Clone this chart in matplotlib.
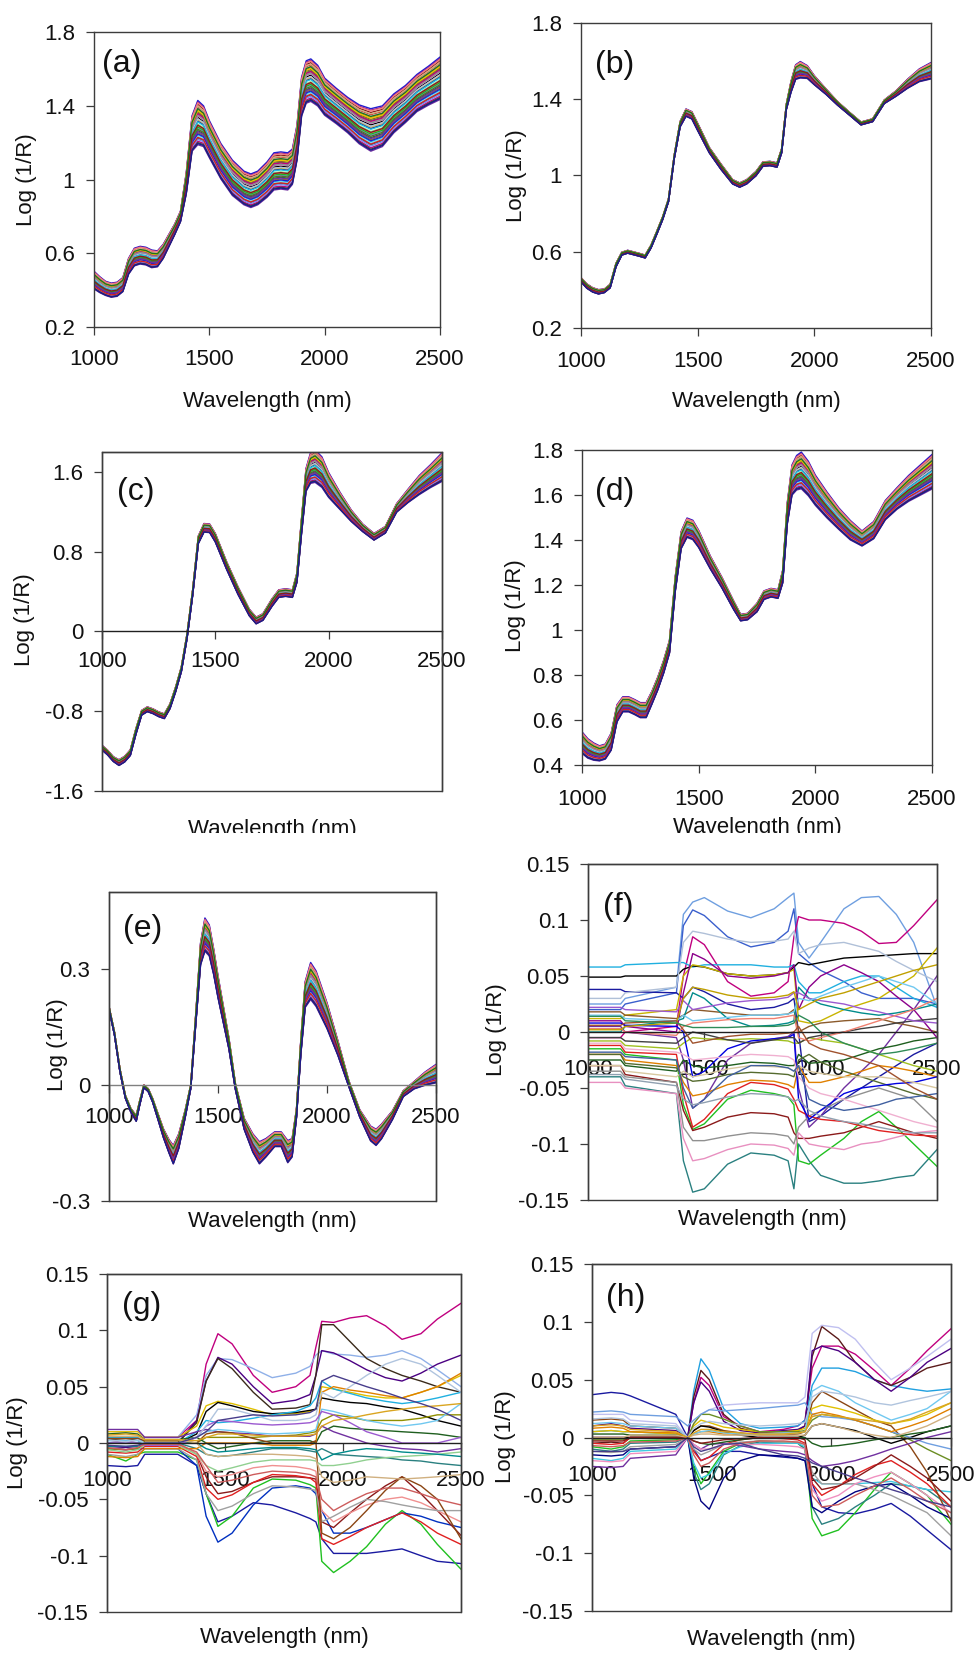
import numpy as np
import matplotlib
matplotlib.use('Agg')
import matplotlib.pyplot as plt
from matplotlib.patches import Rectangle
from matplotlib.transforms import Bbox, TransformedBbox

plt.rcParams['font.family'] = ['Liberation Sans', 'DejaVu Sans']

# ---------------- data ----------------
# wavelength grid shared by panels (a)-(d)
wl = [1000, 1025, 1050, 1075, 1100, 1125, 1150, 1175, 1200, 1225,
      1250, 1275, 1300, 1325, 1350, 1375, 1400, 1425, 1450, 1475,
      1500, 1550, 1600, 1650, 1680, 1710, 1750, 1780, 1810, 1840,
      1860, 1880, 1900, 1920, 1940, 1970, 2000, 2050, 2100, 2150,
      2200, 2250, 2300, 2350, 2400, 2450, 2500]

# (a) raw spectra: bundle centre and half-width
a_mean = [0.455, 0.43, 0.41, 0.40, 0.405, 0.43, 0.53, 0.58, 0.59, 0.585,
          0.57, 0.57, 0.61, 0.67, 0.73, 0.80, 0.98, 1.25, 1.31, 1.29,
          1.22, 1.10, 1.01, 0.955, 0.94, 0.955, 1.00, 1.045, 1.05, 1.045,
          1.07, 1.20, 1.45, 1.53, 1.54, 1.51, 1.45, 1.40, 1.35, 1.30,
          1.27, 1.29, 1.36, 1.41, 1.47, 1.51, 1.55]
a_spread = [.05, .045, .04, .04, .04, .04, .045, .05, .05, .05,
            .05, .045, .04, .035, .03, .03, .06, .10, .125, .115,
            .105, .10, .10, .095, .095, .095, .10, .105, .105, .105,
            .10, .10, .11, .12, .12, .115, .105, .10, .10, .11,
            .12, .115, .11, .105, .105, .11, .12]

# (b)
b_mean = [0.453, 0.42, 0.40, 0.39, 0.395, 0.42, 0.53, 0.59, 0.60, 0.592,
          0.584, 0.575, 0.627, 0.70, 0.776, 0.87, 1.10, 1.27, 1.33, 1.316,
          1.255, 1.133, 1.046, 0.967, 0.95, 0.967, 1.01, 1.06, 1.063, 1.055,
          1.13, 1.36, 1.465, 1.543, 1.555, 1.543, 1.50, 1.44, 1.378, 1.325,
          1.273, 1.29, 1.387, 1.43, 1.482, 1.526, 1.55]
b_spread = [.012, .012, .012, .012, .01, .01, .01, .008, .008, .008,
            .008, .008, .008, .008, .008, .008, .01, .015, .02, .02,
            .02, .015, .015, .012, .012, .012, .012, .012, .012, .012,
            .012, .015, .03, .04, .045, .035, .025, .015, .01, .008,
            .008, .008, .01, .015, .025, .035, .045]

# (c)
c_mean = [-1.165, -1.215, -1.28, -1.315, -1.28, -1.215, -1.0, -0.815, -0.78, -0.80,
          -0.83, -0.85, -0.75, -0.58, -0.38, -0.05, 0.39, 0.92, 1.04, 1.035,
          0.94, 0.66, 0.41, 0.19, 0.11, 0.145, 0.29, 0.38, 0.39, 0.38,
          0.54, 1.05, 1.52, 1.64, 1.66, 1.60, 1.47, 1.31, 1.16, 1.04,
          0.95, 1.02, 1.24, 1.36, 1.47, 1.56, 1.65]
c_spread = [.025, .025, .025, .03, .03, .03, .03, .025, .025, .025,
            .025, .025, .025, .025, .025, .025, .03, .04, .045, .045,
            .045, .04, .04, .035, .035, .035, .04, .04, .04, .04,
            .05, .08, .12, .16, .17, .16, .13, .09, .06, .04,
            .035, .035, .045, .07, .10, .12, .15]

# (d)
d_mean = [0.50, 0.474, 0.46, 0.452, 0.46, 0.504, 0.63, 0.67, 0.67, 0.658,
          0.644, 0.644, 0.70, 0.763, 0.837, 0.926, 1.207, 1.40, 1.455, 1.445,
          1.405, 1.30, 1.21, 1.11, 1.055, 1.06, 1.10, 1.155, 1.166, 1.16,
          1.237, 1.52, 1.667, 1.70, 1.71, 1.674, 1.622, 1.556, 1.496, 1.444,
          1.407, 1.444, 1.533, 1.585, 1.63, 1.667, 1.704]
d_spread = [.05, .045, .04, .035, .035, .04, .04, .035, .035, .035,
            .035, .035, .03, .03, .03, .03, .035, .04, .045, .045,
            .04, .03, .025, .02, .015, .015, .02, .02, .02, .02,
            .03, .05, .07, .08, .085, .08, .07, .06, .05, .045,
            .035, .04, .045, .05, .06, .07, .08]

# (e) derivative-like spectra
e_wl = [1000, 1025, 1050, 1075, 1100, 1125, 1140, 1160, 1180, 1200,
        1225, 1250, 1275, 1295, 1320, 1350, 1375, 1400, 1420, 1440,
        1460, 1480, 1500, 1550, 1580, 1620, 1660, 1690, 1720, 1760,
        1790, 1820, 1840, 1860, 1880, 1900, 1925, 1950, 2000, 2050,
        2100, 2150, 2200, 2225, 2250, 2300, 2350, 2400, 2450, 2500]
e_mean = [0.20, 0.134, 0.039, -0.03, -0.065, -0.086, -0.048, -0.003, -0.013, -0.039,
          -0.082, -0.125, -0.158, -0.18, -0.145, -0.073, -0.004, 0.186, 0.34, 0.39,
          0.375, 0.32, 0.255, 0.108, -0.004, -0.10, -0.15, -0.175, -0.162, -0.14,
          -0.14, -0.172, -0.162, -0.073, 0.099, 0.235, 0.27, 0.25, 0.18, 0.096,
          0.004, -0.073, -0.125, -0.135, -0.12, -0.078, -0.022, 0.0, 0.017, 0.03]
e_spread = [.004, .004, .004, .004, .005, .008, .006, .004, .004, .005,
            .008, .012, .018, .025, .02, .01, .005, .015, .03, .045,
            .042, .035, .03, .015, .008, .015, .025, .03, .025, .02,
            .02, .03, .025, .012, .02, .035, .05, .048, .035, .02,
            .008, .01, .02, .022, .02, .012, .008, .01, .018, .025]

# relative position of every sample inside the bundle (-1 bottom, +1 top)
scores = [0.95, -0.82, 0.41, -0.15, 0.68, -0.55, 0.12, -0.97, 0.33, 0.78,
          -0.36, 0.05, -0.68, 0.55, -0.25, 0.88, -0.45, 0.22, -0.08, 0.62,
          -0.74, 0.28, -0.6, 0.47, -0.3, 0.72, -0.88, 0.15, -0.5, 0.38,
          -0.2, 0.85, -0.65, 0.02, 0.52, -0.4, 0.3, -0.12, 0.6, -0.92]

palette = ['#1f1fd0', '#c0007f', '#20b020', '#f08080', '#d62020', '#20c0e0', '#e8c800',
           '#7030a0', '#909090', '#8b1a1a', '#1f6f1f', '#1a1a8b', '#008b8b', '#e08000',
           '#6f9fe0', '#8b008b', '#a09000', '#000000', '#90e090', '#c8c8c8', '#8080f0',
           '#f080e0', '#80e0f0', '#8b5a2b', '#556b2f', '#d0b080', '#404040', '#b0c0d8']

# (f) individual curves
f_wl = [1000, 1140, 1160, 1380, 1410, 1450, 1500, 1600, 1700, 1800, 1860,
        1885, 1905, 1950, 2000, 2100, 2175, 2250, 2325, 2400, 2500]
f_curves = [
    [.025, .025, .03, .04, .105, .116, .12, .108, .102, .11, .12, .124, .08, .066, .08, .11, .12, .121, .105, .08, .022],
    [.02, .02, .025, .035, .095, .109, .104, .085, .076, .08, .09, .11, .07, .062, .055, .045, .035, .03, .03, .03, .025],
    [-.005, -.005, 0, .005, .05, .085, .078, .045, .032, .035, .045, .085, .103, .1, .1, .097, .09, .079, .08, .095, .118],
    [.058, .058, .06, .062, .062, .058, .06, .06, .06, .058, .058, .06, .045, .035, .035, .045, .05, .05, .04, .03, .022],
    [.049, .049, .05, .05, .056, .059, .058, .052, .05, .051, .053, .058, .062, .06, .062, .066, .067, .068, .069, .07, .07],
    [-.04, -.04, -.048, -.055, -.115, -.143, -.14, -.118, -.108, -.11, -.115, -.14, -.1, -.115, -.128, -.135, -.135, -.133, -.13, -.128, -.105],
    [-.015, -.015, -.02, -.025, -.065, -.087, -.082, -.06, -.052, -.055, -.058, -.065, -.115, -.118, -.11, -.095, -.08, -.071, -.085, -.1, -.12],
    [-.03, -.03, -.038, -.045, -.07, -.088, -.085, -.076, -.072, -.073, -.076, -.09, -.095, -.095, -.093, -.09, -.085, -.08, -.085, -.09, -.095],
    [.038, .038, .036, .035, .03, .04, .036, .025, .02, .022, .026, .03, 0, -.08, -.075, -.06, -.05, -.04, -.03, -.02, -.01],
    [.005, .005, 0, -.005, -.025, -.068, -.06, -.025, -.01, -.006, -.004, 0, -.05, -.085, -.075, -.05, -.035, -.02, 0, .02, .05],
    [.012, .012, .015, .02, .05, .06, .058, .052, .05, .051, .053, .056, .01, .008, .01, .02, .025, .03, .04, .05, .075],
    [-.02, -.02, -.025, -.03, -.045, -.057, -.055, -.047, -.043, -.044, -.047, -.05, -.03, -.045, -.045, -.04, -.035, -.03, -.032, -.035, -.04],
    [-.025, -.025, -.03, -.035, -.025, -.03, -.032, -.03, -.027, -.028, -.03, -.03, -.02, -.028, -.027, -.025, -.02, -.015, -.012, -.008, -.005],
    [-.035, -.035, -.04, -.045, -.085, -.097, -.097, -.093, -.09, -.091, -.093, -.1, -.085, -.075, -.07, -.06, -.055, -.05, -.055, -.06, -.08],
    [.018, .018, .015, .012, .015, .02, .019, .017, .015, .015, .016, .02, 0, .005, .008, .01, .011, .012, .008, .005, 0],
    [-.045, -.045, -.05, -.055, -.095, -.115, -.113, -.105, -.1, -.101, -.104, -.11, -.09, -.1, -.102, -.105, -.1, -.098, -.094, -.09, -.088],
    [.03, .03, .035, .04, .08, .09, .088, .083, .08, .081, .083, .09, .07, .075, .078, .08, .076, .072, .063, .055, .045],
    [-.012, -.012, -.018, -.02, -.055, -.085, -.078, -.055, -.045, -.047, -.051, -.06, -.07, -.075, -.078, -.08, -.084, -.088, -.09, -.092, -.093],
    [0, 0, .005, .01, .012, .035, .03, .012, .005, .006, .008, .01, .04, .03, .025, .02, .017, .015, .017, .02, .025],
    [.01, .01, .005, 0, .035, .07, .065, .05, .048, .05, .053, .06, .02, .04, .05, .06, .053, .045, .032, .02, -.005],
    [-.008, -.008, -.012, -.015, -.01, -.005, -.006, -.007, -.006, -.007, -.008, -.01, -.01, -.005, -.007, -.01, -.015, -.02, -.025, -.03, -.035],
    [-.02, -.02, -.028, -.032, -.04, -.044, -.043, -.038, -.036, -.037, -.038, -.04, -.025, -.02, -.027, -.035, -.04, -.045, -.05, -.055, -.06],
    [.008, .008, .006, .005, 0, -.04, -.035, -.015, -.008, -.006, -.005, -.002, -.06, -.078, -.07, -.055, -.05, -.048, -.046, -.045, -.04],
    [-.03, -.03, -.035, -.04, -.035, -.04, -.038, -.033, -.03, -.031, -.032, -.035, -.03, -.035, -.037, -.04, -.04, -.04, -.042, -.045, -.05],
    [-.005, -.005, -.008, -.01, -.005, 0, -.002, -.007, -.01, -.007, -.005, -.005, -.01, -.005, -.003, 0, .003, .005, .008, .01, .012],
    [.022, .022, .02, .018, .028, .02, .022, .026, .028, .029, .031, .035, .035, .03, .028, .025, .021, .018, .014, .01, .008],
    [.003, .003, 0, -.003, .005, .008, .009, .011, .012, .012, .014, .015, -.005, -.008, -.005, 0, .005, .01, .015, .02, .03],
    [.015, .015, .012, .01, .015, .01, .011, .013, .015, .015, .016, .018, .03, .028, .032, .04, .045, .05, .045, .04, .025],
    [-.01, -.01, -.015, -.018, -.02, -.025, -.024, -.022, -.02, -.021, -.022, -.025, -.04, -.05, -.055, -.06, -.065, -.07, -.075, -.08, -.085],
    [.002, .002, .005, .008, .03, .04, .038, .033, .03, .031, .033, .036, .02, .025, .03, .035, .04, .045, .05, .055, .06],
    [-.018, -.018, -.022, -.025, -.05, -.068, -.06, -.04, -.03, -.03, -.032, -.035, -.03, -.06, -.065, -.07, -.068, -.065, -.06, -.058, -.055],
    [.006, .006, .008, .01, .002, -.01, -.008, -.004, -.002, -.002, -.001, 0, .005, -.01, -.015, -.02, -.025, -.03, -.04, -.05, -.06],
    [-.038, -.038, -.042, -.048, -.06, -.065, -.063, -.058, -.055, -.056, -.058, -.062, -.06, -.07, -.075, -.08, -.082, -.085, -.088, -.09, -.09],
    [.014, .014, .01, .008, .006, .004, .004, .004, .005, .005, .006, .008, .015, .01, 0, -.01, -.015, -.02, -.018, -.015, -.01],
]
f_colors = ['#6f9fe0', '#3a5fcd', '#c0007f', '#20b0e0', '#000000', '#2a8080', '#20c020',
            '#8b1a1a', '#1a1aa0', '#7030a0', '#c8b400', '#e08000', '#1f5f1f', '#909090',
            '#8b5a2b', '#e890c0', '#b0c0d8', '#e02020', '#008b8b', '#8b008b', '#a0c020',
            '#556b2f', '#0000e0', '#d8c8a0', '#404040', '#9b59d0', '#f08070', '#70c8f0',
            '#f0b0d0', '#c0a000', '#4060a0', '#a0522d', '#90a0b0', '#2e8b57']

# (g)
g_wl = [1000, 1080, 1130, 1160, 1300, 1380, 1420, 1470, 1530, 1620, 1700, 1800,
        1860, 1885, 1910, 1960, 2030, 2100, 2180, 2250, 2330, 2400, 2500]
g_curves = [
    [0, .002, 0, .005, .005, .02, .07, .097, .088, .06, .045, .05, .06, .085, .108, .107, .111, .113, .104, .092, .097, .11, .124],
    [0, 0, 0, .005, .005, .025, .06, .075, .074, .066, .058, .062, .068, .078, .082, .079, .078, .076, .078, .082, .075, .065, .05],
    [-.005, -.004, -.005, 0, 0, .02, .055, .076, .07, .05, .035, .038, .043, .06, .082, .08, .073, .065, .058, .055, .062, .07, .078],
    [.003, .004, .003, 0, 0, .018, .055, .075, .066, .045, .03, .031, .034, .06, .105, .105, .09, .075, .066, .06, .055, .05, .045],
    [.01, .01, .01, .005, .005, .015, .033, .037, .035, .03, .025, .026, .028, .03, .05, .048, .045, .042, .04, .04, .045, .05, .06],
    [0, 0, 0, 0, 0, .008, .028, .036, .033, .028, .026, .027, .029, .03, .04, .038, .036, .035, .032, .03, .025, .02, .015],
    [-.02, -.021, -.02, -.01, -.01, -.02, -.045, -.07, -.065, -.053, -.055, -.062, -.067, -.07, -.085, -.098, -.098, -.098, -.096, -.094, -.1, -.105, -.107],
    [-.01, -.016, -.01, -.008, -.008, -.015, -.045, -.074, -.065, -.04, -.032, -.033, -.037, -.04, -.105, -.115, -.105, -.092, -.072, -.06, -.072, -.09, -.112],
    [-.005, -.006, -.005, -.005, -.005, -.02, -.065, -.088, -.08, -.055, -.04, -.038, -.04, -.045, -.06, -.08, -.08, -.075, -.068, -.062, -.065, -.07, -.075],
    [.005, .005, .005, 0, 0, -.01, -.03, -.045, -.043, -.035, -.03, -.03, -.031, -.032, -.07, -.075, -.062, -.05, -.038, -.03, -.045, -.06, -.082],
    [-.008, -.009, -.008, -.003, -.003, -.012, -.04, -.05, -.046, -.035, -.028, -.029, -.031, -.035, -.085, -.09, -.083, -.075, -.068, -.062, -.07, -.08, -.09],
    [0, 0, 0, 0, 0, -.01, -.025, -.03, -.028, -.022, -.02, -.021, -.023, -.025, -.06, -.07, -.062, -.055, -.05, -.048, -.053, -.06, -.07],
    [.005, .005, .005, 0, 0, .01, .02, .018, .019, .022, .025, .028, .033, .04, .055, .048, .044, .04, .037, .035, .037, .04, .045],
    [-.005, -.006, -.005, .002, .002, 0, .005, .005, .005, .005, .006, .007, .009, .01, .02, .025, .023, .02, .02, .02, .022, .025, .025],
    [-.01, -.012, -.01, -.005, -.005, -.015, -.045, -.06, -.056, -.045, -.038, -.039, -.041, -.042, -.07, -.065, -.057, -.05, -.052, -.055, -.058, -.06, -.06],
    [0, 0, 0, 0, 0, -.005, -.01, -.012, -.011, -.008, -.005, -.005, -.007, -.008, -.005, -.01, -.011, -.012, -.013, -.015, -.016, -.018, -.02],
    [.008, .009, .008, .003, .003, .005, 0, -.005, -.003, 0, .002, .002, .002, 0, .01, .015, .013, .012, .011, .01, .009, .008, .005],
    [-.012, -.013, -.012, -.005, -.005, -.005, 0, 0, 0, 0, -.002, -.002, -.002, 0, .045, .05, .047, .045, .042, .04, .045, .05, .062],
    [.012, .012, .012, .005, .005, .01, .012, .01, .009, .008, .006, .006, .006, .008, .015, .01, .005, 0, -.003, -.005, -.006, -.008, -.005],
    [-.006, -.008, -.006, -.002, -.002, -.01, -.02, -.025, -.022, -.017, -.015, -.015, -.015, -.016, -.02, -.02, -.018, -.015, -.013, -.012, -.011, -.01, -.008],
    [.004, .004, .004, .002, .002, 0, .008, .01, .009, .004, 0, 0, 0, .002, -.08, -.085, -.075, -.06, -.042, -.03, -.038, -.05, -.085],
    [.002, .002, .002, 0, 0, .005, .01, .012, .011, .009, .008, .009, .01, .012, .03, .028, .024, .02, .017, .015, .017, .02, .035],
    [-.003, -.003, -.003, 0, 0, 0, -.005, -.008, -.007, -.005, -.004, -.004, -.005, -.006, -.015, -.01, -.007, -.005, -.006, -.008, -.009, -.01, -.012],
    [0, 0, 0, -.002, -.002, .005, .015, .02, .019, .017, .016, .017, .018, .02, .028, .025, .018, .01, .005, 0, 0, 0, .005],
    [.006, .006, .006, .003, .003, 0, -.01, -.012, -.011, -.01, -.01, -.011, -.012, -.014, -.03, -.035, -.033, -.03, -.031, -.032, -.031, -.03, -.028],
    [.003, .001, .003, 0, 0, .005, .015, .03, .03, .025, .02, .02, .022, .025, .045, .04, .05, .06, .07, .075, .07, .06, .045],
    [-.004, -.006, -.004, -.001, -.001, -.008, -.02, -.035, -.033, -.028, -.025, -.026, -.028, -.03, -.05, -.06, -.052, -.045, -.04, -.04, -.045, -.05, -.055],
    [.007, .008, .007, .003, .003, .002, .005, .008, .008, .007, .006, .006, .007, .008, .015, .02, .022, .025, .028, .03, .032, .033, .035],
    [-.002, -.003, -.002, 0, 0, .005, .01, .02, .022, .025, .024, .025, .027, .03, .055, .06, .055, .05, .045, .04, .035, .03, .02],
]
g_colors = ['#c0007f', '#8fb0e8', '#4b0082', '#3a2a1a', '#e0c000', '#000000', '#1a1aa0',
            '#20c020', '#0030c0', '#8b1a1a', '#e02020', '#f09090', '#20b0e0', '#909000',
            '#a0a0a0', '#2a8080', '#1f5f1f', '#e08000', '#7030a0', '#90d090', '#8b4513',
            '#70c8f0', '#008b8b', '#9b59d0', '#d0b080', '#b0c4de', '#cd5c5c', '#daa520',
            '#483d8b']

# (h)
h_wl = [1000, 1080, 1130, 1160, 1350, 1400, 1425, 1455, 1490, 1550, 1620, 1700,
        1800, 1860, 1890, 1920, 1960, 2030, 2100, 2180, 2250, 2330, 2400, 2500]
h_curves = [
    [.037, .039, .038, .036, .02, 0, -.01, -.02, -.017, -.012, -.012, -.015, -.017, -.018, -.02, -.04, -.06, -.065, -.066, -.062, -.057, -.068, -.08, -.097],
    [0, 0, 0, 0, 0, 0, .03, .052, .045, .018, .01, .005, .007, .01, .015, .06, .079, .079, .072, .058, .045, .06, .075, .094],
    [.005, .006, .005, .005, .003, 0, .04, .068, .058, .025, .012, .008, .009, .01, .015, .045, .06, .06, .057, .05, .045, .042, .04, .042],
    [-.005, -.004, -.005, 0, 0, 0, .035, .058, .05, .02, .008, .004, .005, .006, .01, .07, .096, .085, .065, .05, .045, .052, .06, .065],
    [.02, .02, .02, .015, .012, 0, .012, .02, .024, .028, .029, .03, .03, .03, .035, .09, .097, .095, .085, .065, .05, .06, .07, .085],
    [.01, .012, .01, .008, .006, 0, .03, .048, .04, .014, .006, .004, .006, .007, .01, .075, .079, .075, .065, .05, .04, .052, .065, .077],
    [-.008, -.01, -.008, -.003, -.002, 0, -.025, -.04, -.03, -.012, -.005, -.003, -.004, -.005, -.01, -.07, -.085, -.08, -.065, -.045, -.03, -.04, -.05, -.075],
    [-.01, -.012, -.01, -.005, -.004, 0, -.03, -.045, -.04, -.015, -.007, -.004, -.005, -.005, -.01, -.06, -.075, -.07, -.06, -.05, -.04, -.042, -.045, -.06],
    [-.015, -.016, -.015, -.01, -.008, 0, -.035, -.055, -.062, -.035, -.02, -.015, -.016, -.018, -.02, -.06, -.065, -.055, -.047, -.042, -.04, -.05, -.06, -.07],
    [-.018, -.02, -.018, -.012, -.01, 0, -.022, -.035, -.032, -.014, -.008, -.005, -.005, -.005, -.008, -.035, -.04, -.04, -.04, -.039, -.038, -.042, -.045, -.047],
    [-.005, -.006, -.005, 0, 0, 0, -.012, -.02, -.017, -.006, -.002, 0, -.001, -.002, -.005, -.04, -.05, -.042, -.032, -.024, -.02, -.03, -.04, -.06],
    [.015, .016, .015, .01, .008, 0, .006, .01, .01, .006, .004, .002, .002, .003, .005, .03, .04, .032, .024, .015, .01, -.008, -.03, -.072],
    [.005, .006, .005, .005, .003, 0, .01, .015, .013, .009, .007, .005, .005, .006, .008, .025, .028, .025, .021, .015, .012, .015, .02, .03],
    [-.002, -.002, -.002, 0, 0, 0, .012, .02, .02, .016, .01, .005, .005, .005, .006, .015, .02, .018, .015, .01, .005, -.002, -.01, -.02],
    [0, 0, 0, 0, 0, 0, .006, .01, .009, .005, .002, 0, 0, 0, .002, .01, .012, .009, .006, 0, -.005, 0, .005, .01],
    [.022, .023, .022, .02, .018, .01, .015, .02, .024, .023, .024, .025, .027, .028, .03, .02, .018, .017, .015, .01, .005, 0, -.005, -.01],
    [-.012, -.013, -.012, -.008, -.006, 0, -.01, -.015, -.012, -.006, -.004, -.003, -.004, -.004, -.006, -.03, -.04, -.04, -.04, -.045, -.05, -.058, -.065, -.085],
    [-.025, -.026, -.025, -.018, -.015, 0, -.006, -.01, -.006, -.005, -.007, -.01, -.012, -.013, -.015, -.02, -.025, -.023, -.02, -.015, -.01, -.005, 0, .005],
    [.008, .009, .008, .005, .004, 0, .003, .005, .005, .003, .003, .003, .004, .004, .005, .02, .022, .019, .015, .01, .005, .01, .015, .025],
    [.003, .003, .003, .002, .002, 0, -.003, -.005, -.006, -.004, -.002, 0, 0, 0, 0, -.005, -.008, -.007, -.005, -.002, 0, .003, .005, .01],
    [-.02, -.021, -.02, -.014, -.012, 0, -.006, -.01, -.01, -.006, -.006, -.006, -.007, -.008, -.01, -.045, -.055, -.05, -.04, -.034, -.03, -.04, -.05, -.065],
    [.012, .013, .012, .01, .008, 0, .003, .005, .006, .004, .003, .003, .004, .004, .005, .04, .045, .04, .03, .022, .015, .02, .025, .04],
    [-.003, -.003, -.003, 0, 0, 0, -.003, -.005, -.004, -.002, -.001, 0, 0, 0, -.002, -.035, -.045, -.042, -.035, -.025, -.015, -.025, -.035, -.055],
    [0, 0, 0, .002, .002, 0, .002, .003, .003, .002, .002, .002, .002, .002, .002, .01, .012, .009, .005, .002, 0, .005, .01, .02],
    [.016, .017, .016, .012, .01, 0, .008, .012, .014, .012, .011, .01, .011, .012, .013, .035, .04, .038, .035, .03, .028, .032, .035, .04],
    [-.007, -.008, -.007, -.004, -.003, 0, -.015, -.025, -.022, -.01, -.005, -.003, -.003, -.004, -.006, -.05, -.06, -.058, -.05, -.042, -.035, -.045, -.055, -.065],
    [.01, .011, .01, .007, .005, 0, .004, .007, .007, .005, .004, .003, .003, .004, .005, .018, .02, .018, .016, .014, .012, .016, .022, .03],
    [-.012, -.012, -.012, -.01, -.008, 0, -.008, -.012, -.01, -.006, -.005, -.01, -.015, -.016, -.018, -.022, -.025, -.03, -.035, -.04, -.045, -.05, -.055, -.06],
]
h_colors = ['#1a1aa0', '#c0007f', '#20a0e0', '#5a1a1a', '#c0c0f0', '#4b0082', '#20c020',
            '#2a8080', '#000080', '#40c8e0', '#e02020', '#8b4513', '#e0c000', '#6b8e23',
            '#000000', '#6f9fe0', '#a0a0a0', '#7030a0', '#e08000', '#1f5f1f', '#f090c0',
            '#70c8f0', '#8b1a1a', '#d0b080', '#b0c4de', '#cd5c5c', '#daa520', '#483d8b']

x_ticks = [1000, 1500, 2000, 2500]
x_ticklabels = ['1000', '1500', '2000', '2500']
ab_ticks = [0.2, 0.6, 1.0, 1.4, 1.8]
ab_labels = ['0.2', '0.6', '1', '1.4', '1.8']
c_ticks = [-1.6, -0.8, 0, 0.8, 1.6]
c_labels = ['-1.6', '-0.8', '0', '0.8', '1.6']
d_ticks = [0.4, 0.6, 0.8, 1.0, 1.2, 1.4, 1.6, 1.8]
d_labels = ['0.4', '0.6', '0.8', '1', '1.2', '1.4', '1.6', '1.8']
e_ticks = [-0.3, 0, 0.3]
e_labels = ['-0.3', '0', '0.3']
fgh_ticks = [-0.15, -0.1, -0.05, 0, 0.05, 0.1, 0.15]
fgh_labels = ['-0.15', '-0.1', '-0.05', '0', '0.05', '0.1', '0.15']

XLABEL = 'Wavelength (nm)'
YLABEL = 'Log (1/R)'

# ---------------- figure ----------------
W, H = 979, 1653
fig = plt.figure(figsize=(W / 100, H / 100), dpi=100)
SPINE = '#3c3c3c'


def add_panel(l, t, r, b):
    return fig.add_axes([l / W, 1 - b / H, (r - l) / W, (b - t) / H])


def put_text(x, y, s, **kw):
    return fig.text(x / W, 1 - y / H, s, color='#111111', **kw)


def style(ax, ylim, yticks, ylabels, xpad, zero_axis=False, zero_color='#202020'):
    ax.set_xlim(1000, 2500)
    ax.set_ylim(*ylim)
    ax.set_xticks(x_ticks)
    ax.set_xticklabels(x_ticklabels)
    ax.set_yticks(yticks)
    ax.set_yticklabels(ylabels)
    for sp in ax.spines.values():
        sp.set_color(SPINE)
        sp.set_linewidth(1.0)
    ax.tick_params(direction='out', length=5.5, width=0.9, color=SPINE,
                   labelsize=16, labelcolor='#111111')
    ax.tick_params(axis='y', pad=8)
    ax.tick_params(axis='x', pad=xpad)
    if zero_axis:
        ax.spines['bottom'].set_position(('data', 0))
        ax.spines['bottom'].set_color(zero_color)
        ax.add_patch(Rectangle((0, 0), 1, 1, transform=ax.transAxes, fill=False,
                               edgecolor=SPINE, lw=1.0, clip_on=False, zorder=5))


def draw_bundle(ax, x, mean, spread):
    mean = np.asarray(mean)
    spread = np.asarray(spread)
    for i, s in enumerate(scores):
        ax.plot(x, mean + s * spread, color=palette[i % len(palette)], lw=1.0)


def draw_rows(ax, x, rows, colors):
    for row, c in zip(rows, colors):
        ax.plot(x, row, color=c, lw=1.0)


# (a)
ax = add_panel(94, 32, 440, 327)
draw_bundle(ax, wl, a_mean, a_spread)
style(ax, (0.2, 1.8), ab_ticks, ab_labels, xpad=10)
put_text(267, 402, XLABEL, ha='center', va='center', fontsize=16)
put_text(27, 180, YLABEL, ha='center', va='center', rotation=90, fontsize=16)
put_text(102, 64, '(a)', ha='left', va='center', fontsize=23)

# (b)
ax = add_panel(581, 23, 931, 328)
draw_bundle(ax, wl, b_mean, b_spread)
style(ax, (0.2, 1.8), ab_ticks, ab_labels, xpad=11)
put_text(756, 402, XLABEL, ha='center', va='center', fontsize=16)
put_text(517, 176, YLABEL, ha='center', va='center', rotation=90, fontsize=16)
put_text(595, 65, '(b)', ha='left', va='center', fontsize=23)

# (c)
ax = add_panel(102, 452, 442, 791)
draw_bundle(ax, wl, c_mean, c_spread)
style(ax, (-1.6, 1.8), c_ticks, c_labels, xpad=8.5, zero_axis=True)
cut = TransformedBbox(Bbox.from_extents(0, 1 - 833 / H, 1, 1), fig.transFigure)
t = put_text(272, 829, XLABEL, ha='center', va='center', fontsize=16)
t.set_clip_box(cut)
t.set_clip_on(True)
put_text(25, 620, YLABEL, ha='center', va='center', rotation=90, fontsize=16)
put_text(117, 492, '(c)', ha='left', va='center', fontsize=23)

# (d)
ax = add_panel(582, 450, 932, 765)
draw_bundle(ax, wl, d_mean, d_spread)
style(ax, (0.4, 1.8), d_ticks, d_labels, xpad=11.5)
t = put_text(757, 827, XLABEL, ha='center', va='center', fontsize=16)
t.set_clip_box(cut)
t.set_clip_on(True)
put_text(516, 606, YLABEL, ha='center', va='center', rotation=90, fontsize=16)
put_text(595, 492, '(d)', ha='left', va='center', fontsize=23)

# (e)
ax = add_panel(109, 892, 436, 1201)
draw_bundle(ax, e_wl, e_mean, e_spread)
style(ax, (-0.3, 0.5), e_ticks, e_labels, xpad=10, zero_axis=True, zero_color='#808080')
put_text(272, 1222, XLABEL, ha='center', va='center', fontsize=16)
put_text(58, 1045, YLABEL, ha='center', va='center', rotation=90, fontsize=16)
put_text(123, 929, '(e)', ha='left', va='center', fontsize=23)

# (f)
ax = add_panel(588, 864, 937, 1200)
draw_rows(ax, f_wl, f_curves, f_colors)
style(ax, (-0.15, 0.15), fgh_ticks, fgh_labels, xpad=14, zero_axis=True)
put_text(762, 1220, XLABEL, ha='center', va='center', fontsize=16)
put_text(497, 1030, YLABEL, ha='center', va='center', rotation=90, fontsize=16)
put_text(603, 907, '(f)', ha='left', va='center', fontsize=23)

# (g)
ax = add_panel(107, 1274, 461, 1612)
draw_rows(ax, g_wl, g_curves, g_colors)
style(ax, (-0.15, 0.15), fgh_ticks, fgh_labels, xpad=14, zero_axis=True)
put_text(284, 1637, XLABEL, ha='center', va='center', fontsize=16)
put_text(18, 1443, YLABEL, ha='center', va='center', rotation=90, fontsize=16)
put_text(122, 1306, '(g)', ha='left', va='center', fontsize=23)

# (h)
ax = add_panel(592, 1264, 951, 1611)
draw_rows(ax, h_wl, h_curves, h_colors)
style(ax, (-0.15, 0.15), fgh_ticks, fgh_labels, xpad=14, zero_axis=True)
put_text(771, 1640, XLABEL, ha='center', va='center', fontsize=16)
put_text(506, 1437, YLABEL, ha='center', va='center', rotation=90, fontsize=16)
put_text(606, 1298, '(h)', ha='left', va='center', fontsize=23)

fig.savefig('out.png', dpi=100)
